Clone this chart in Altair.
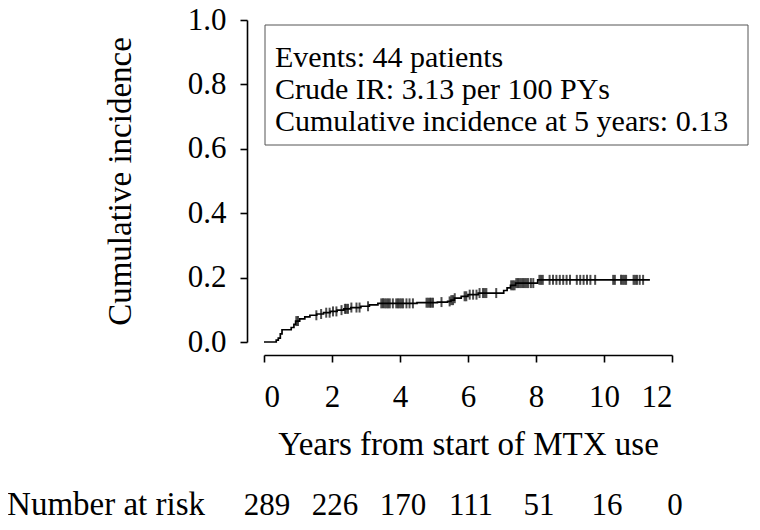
import altair as alt
import pandas as pd

# ---- data ----
event_times = [0.0, 0.36, 0.42, 0.48, 0.53, 0.80, 0.88, 0.93, 1.05, 1.20, 1.35, 1.55, 1.75,
               1.95, 2.15, 2.35, 2.55, 2.85, 3.10, 3.35, 4.50, 5.10, 5.40, 5.50, 5.60, 5.80,
               6.00, 6.30, 7.05, 7.15, 7.25, 7.40, 8.05]
event_ci = [0.0, 0.006, 0.012, 0.025, 0.038, 0.045, 0.055, 0.065, 0.072, 0.078, 0.083, 0.087,
            0.091, 0.095, 0.099, 0.103, 0.107, 0.111, 0.115, 0.120, 0.122, 0.124, 0.126, 0.130,
            0.136, 0.142, 0.147, 0.152, 0.160, 0.168, 0.176, 0.183, 0.193]
end_time = 11.35
censor_times = [0.95, 1.0, 1.54, 1.68, 1.83, 1.93, 2.03, 2.13, 2.28, 2.38, 2.42, 2.47, 2.57,
                2.72, 2.81, 3.06, 3.45, 3.50, 3.55, 3.60, 3.65, 3.70, 3.79, 3.89, 3.94, 3.99,
                4.04, 4.09, 4.19, 4.28, 4.38, 4.78, 4.83, 4.88, 4.92, 4.97, 5.22, 5.46, 5.51,
                5.56, 5.61, 5.90, 5.95, 6.05, 6.15, 6.25, 6.34, 6.44, 6.49, 6.54, 6.83, 7.27,
                7.32, 7.37, 7.42, 7.47, 7.52, 7.57, 7.62, 7.67, 7.72, 7.77, 7.85, 7.92, 8.10,
                8.15, 8.20, 8.40, 8.50, 8.60, 8.70, 8.80, 8.90, 9.00, 9.20, 9.30, 9.40, 9.50,
                9.60, 9.74, 10.27, 10.32, 10.50, 10.55, 10.60, 10.65, 10.87, 10.92, 10.97,
                11.05, 11.15]
risk_years = [0, 2, 4, 6, 8, 10, 12]
risk_counts = [289, 226, 170, 111, 51, 16, 0]
annotation_lines = ["Events: 44 patients",
                    "Crude IR: 3.13 per 100 PYs",
                    "Cumulative incidence at 5 years: 0.13"]
x_ticks = [0, 2, 4, 6, 8, 10, 12]
y_ticks = [0.0, 0.2, 0.4, 0.6, 0.8, 1.0]

# ---- tables built from the arrays ----
curve = pd.DataFrame({"t": event_times + [end_time], "ci": event_ci + [event_ci[-1]]})


def ci_at(t):
    v = 0.0
    for et, ec in zip(event_times, event_ci):
        if et <= t:
            v = ec
    return v


cens = pd.DataFrame({"t": censor_times, "ci": [ci_at(t) for t in censor_times]})
risk = pd.DataFrame({"t": risk_years, "n": [str(v) for v in risk_counts]})
one = pd.DataFrame({"a": [0]})

FONT = "Liberation Serif"
FS = 31
TFS = 33

xscale = alt.Scale(domain=[0, 12], nice=False, zero=False)
yscale = alt.Scale(domain=[0, 1], nice=False, zero=False)

xaxis = alt.Axis(values=x_ticks, title="Years from start of MTX use", offset=13, tickSize=7,
                 labelPadding=20, titlePadding=16, grid=False, titleFontSize=TFS)
yaxis = alt.Axis(values=y_ticks, format=".1f", title="Cumulative incidence", offset=17,
                 tickSize=7, labelPadding=14, titlePadding=50, grid=False, titleFontSize=TFS)

line = alt.Chart(curve).mark_line(interpolate="step-after", color="black", strokeWidth=1.7).encode(
    x=alt.X("t:Q", scale=xscale, axis=xaxis),
    y=alt.Y("ci:Q", scale=yscale, axis=yaxis),
)

ticks = alt.Chart(cens).mark_tick(orient="vertical", color="black", size=10, thickness=2).encode(
    x=alt.X("t:Q", scale=xscale),
    y=alt.Y("ci:Q", scale=yscale),
)

box = alt.Chart(one).mark_rect(fill="white", stroke="#555555", strokeWidth=1).encode(
    x=alt.value(1), x2=alt.value(484), y=alt.value(5), y2=alt.value(125)
)

box_text = alt.Chart(one).mark_text(
    align="left", baseline="alphabetic", font=FONT, fontSize=30, color="black",
    lineBreak="\n", lineHeight=32
).encode(x=alt.value(11), y=alt.value(47), text=alt.value("\n".join(annotation_lines)))

risk_text = alt.Chart(risk).mark_text(
    align="center", baseline="alphabetic", font=FONT, fontSize=FS, color="black", dx=3
).encode(x=alt.X("t:Q", scale=xscale), y=alt.value(495), text="n:N")

risk_label = alt.Chart(one).mark_text(
    align="right", baseline="alphabetic", font=FONT, fontSize=TFS, color="black"
).encode(x=alt.value(-59), y=alt.value(495), text=alt.value("Number at risk"))

chart = alt.layer(box, line, ticks, box_text, risk_text, risk_label).properties(
    width=408, height=322,
    autosize=alt.AutoSizeParams(type="none"),
    padding={"left": 256, "top": 12, "right": 80, "bottom": 180},
).configure(font=FONT).configure_view(stroke=None).configure_axis(
    domainColor="black", tickColor="black", domainWidth=1.6, tickWidth=1.6,
    labelColor="black", titleColor="black", labelFont=FONT, titleFont=FONT,
    labelFontSize=FS, titleFontWeight="normal",
).configure_text(font=FONT)

chart.save("out.html", embed_options={"renderer": "svg", "actions": False})
